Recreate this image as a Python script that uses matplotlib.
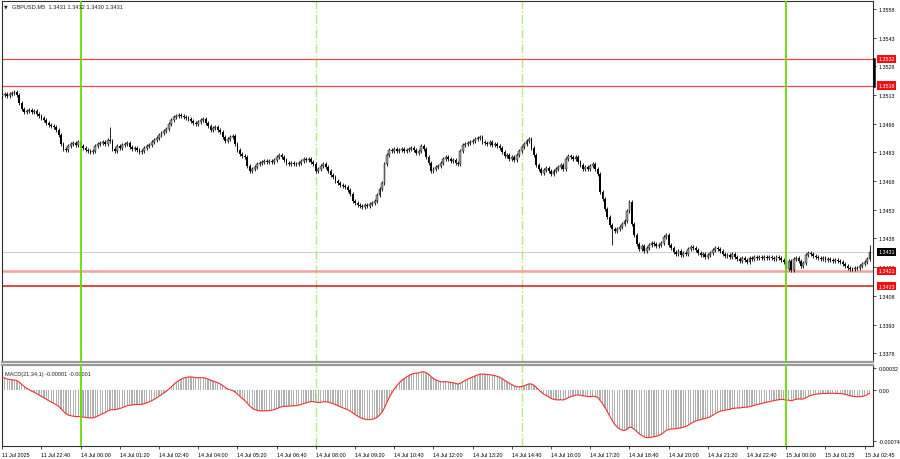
import numpy as np
import matplotlib.pyplot as plt
from matplotlib.transforms import blended_transform_factory

plt.rcParams['font.family'] = ['Liberation Sans', 'DejaVu Sans']

# M5 closes, GBPUSD, 11 Jul 21:20 -> 15 Jul 02:50
closes = [
    1.35130, 1.35135, 1.35125, 1.35135, 1.35141, 1.35146, 1.35130, 1.35088, 1.35057, 1.35041,
    1.35047, 1.35052, 1.35041, 1.35047, 1.35031, 1.35020, 1.35010, 1.35000, 1.34984, 1.34973,
    1.34968, 1.34963, 1.34947, 1.34921, 1.34874, 1.34848, 1.34842, 1.34863, 1.34874, 1.34879,
    1.34869, 1.34884, 1.34863, 1.34853, 1.34842, 1.34837, 1.34832, 1.34837, 1.34863, 1.34874,
    1.34879, 1.34884, 1.34874, 1.34895, 1.34890, 1.34848, 1.34837, 1.34863, 1.34853, 1.34869,
    1.34874, 1.34879, 1.34858, 1.34848, 1.34853, 1.34842, 1.34832, 1.34837, 1.34853, 1.34863,
    1.34869, 1.34884, 1.34895, 1.34905, 1.34921, 1.34931, 1.34942, 1.34952, 1.34979, 1.35000,
    1.35015, 1.35020, 1.35026, 1.35020, 1.35015, 1.35010, 1.35005, 1.34994, 1.34984, 1.34979,
    1.34989, 1.35000, 1.35005, 1.34984, 1.34968, 1.34947, 1.34958, 1.34963, 1.34947, 1.34937,
    1.34910, 1.34890, 1.34900, 1.34910, 1.34916, 1.34874, 1.34842, 1.34822, 1.34811, 1.34806,
    1.34759, 1.34733, 1.34743, 1.34754, 1.34769, 1.34775, 1.34780, 1.34785, 1.34780, 1.34785,
    1.34780, 1.34790, 1.34806, 1.34816, 1.34806, 1.34790, 1.34775, 1.34769, 1.34775, 1.34769,
    1.34769, 1.34775, 1.34785, 1.34795, 1.34790, 1.34795, 1.34780, 1.34769, 1.34733, 1.34743,
    1.34759, 1.34769, 1.34754, 1.34733, 1.34712, 1.34701, 1.34680, 1.34670, 1.34659, 1.34654,
    1.34649, 1.34633, 1.34612, 1.34576, 1.34565, 1.34555, 1.34549, 1.34544, 1.34555, 1.34549,
    1.34560, 1.34565, 1.34576, 1.34607, 1.34639, 1.34670, 1.34769, 1.34816, 1.34842, 1.34837,
    1.34848, 1.34837, 1.34842, 1.34848, 1.34837, 1.34842, 1.34848, 1.34853, 1.34842, 1.34827,
    1.34837, 1.34863, 1.34848, 1.34806, 1.34775, 1.34733, 1.34743, 1.34754, 1.34759, 1.34775,
    1.34795, 1.34806, 1.34795, 1.34785, 1.34790, 1.34775, 1.34769, 1.34837, 1.34869, 1.34874,
    1.34879, 1.34884, 1.34890, 1.34900, 1.34905, 1.34910, 1.34884, 1.34879, 1.34874, 1.34884,
    1.34869, 1.34874, 1.34863, 1.34853, 1.34832, 1.34811, 1.34816, 1.34795, 1.34806, 1.34790,
    1.34816, 1.34837, 1.34858, 1.34874, 1.34890, 1.34900, 1.34853, 1.34816, 1.34764, 1.34743,
    1.34722, 1.34738, 1.34748, 1.34733, 1.34717, 1.34733, 1.34743, 1.34754, 1.34764, 1.34743,
    1.34795, 1.34811, 1.34806, 1.34795, 1.34806, 1.34780, 1.34764, 1.34743, 1.34754, 1.34743,
    1.34759, 1.34769, 1.34743, 1.34717, 1.34623, 1.34586, 1.34534, 1.34492, 1.34450, 1.34429,
    1.34419, 1.34429, 1.34440, 1.34456, 1.34471, 1.34523, 1.34570, 1.34456, 1.34398, 1.34351,
    1.34325, 1.34341, 1.34314, 1.34330, 1.34346, 1.34356, 1.34351, 1.34341, 1.34346, 1.34356,
    1.34388, 1.34398, 1.34346, 1.34330, 1.34309, 1.34299, 1.34314, 1.34293, 1.34304, 1.34299,
    1.34325, 1.34335, 1.34330, 1.34320, 1.34304, 1.34293, 1.34299, 1.34283, 1.34293, 1.34304,
    1.34320, 1.34330, 1.34325, 1.34314, 1.34299, 1.34288, 1.34293, 1.34283, 1.34299, 1.34283,
    1.34273, 1.34262, 1.34278, 1.34267, 1.34257, 1.34278, 1.34273, 1.34283, 1.34278, 1.34283,
    1.34278, 1.34283, 1.34278, 1.34283, 1.34278, 1.34273, 1.34283, 1.34278, 1.34267, 1.34257,
    1.34220, 1.34262, 1.34215, 1.34273, 1.34278, 1.34262, 1.34236, 1.34252, 1.34293, 1.34304,
    1.34299, 1.34288, 1.34283, 1.34278, 1.34273, 1.34278, 1.34267, 1.34273, 1.34267, 1.34262,
    1.34267, 1.34262, 1.34257, 1.34246, 1.34236, 1.34225, 1.34220, 1.34220, 1.34225, 1.34225,
    1.34236, 1.34246, 1.34257, 1.34273, 1.34309,
]
first_open = 1.35125
wick = 0.0001
extra_highs = {44: 1.34963, 354: 1.34345}
extra_lows = {249: 1.34346, 322: 1.34205}

# MACD(21,34,1)
fast_period = 21
slow_period = 34
macd_start = 0.00019  # value of the first bar in the MACD window

price_ticks = [1.3558, 1.3543, 1.3528, 1.3513, 1.3498, 1.3483, 1.3468, 1.3453,
               1.3438, 1.3423, 1.3408, 1.3393, 1.3378]
levels = [1.3532, 1.3518, 1.3421, 1.3413]
last_price = 1.3431
macd_ticks = [0.00032, 0.0, -0.00074]
macd_tick_labels = ['0.00032', '0.00', '-0.00074']

time_idx = [0, 16, 32, 48, 64, 80, 96, 112, 128, 144, 160, 176, 192, 208,
            224, 240, 256, 272, 288, 304, 320, 336, 352]
time_labels = ['11 Jul 2025', '11 Jul 22:40', '14 Jul 00:00', '14 Jul 01:20',
               '14 Jul 02:40', '14 Jul 04:00', '14 Jul 05:20', '14 Jul 06:40',
               '14 Jul 08:00', '14 Jul 09:20', '14 Jul 10:40', '14 Jul 12:00',
               '14 Jul 13:20', '14 Jul 14:40', '14 Jul 16:00', '14 Jul 17:20',
               '14 Jul 18:40', '14 Jul 20:00', '14 Jul 21:20', '14 Jul 22:40',
               '15 Jul 00:00', '15 Jul 01:25', '15 Jul 02:45']
day_lines = [32, 320]      # 00:00 session separators
open_lines = [128, 212]    # 08:00 and 15:00

# --- derived series ---
c = np.array(closes)
o = np.concatenate([[first_open], c[:-1]])
hi = np.maximum(o, c) + wick
lo = np.minimum(o, c) - wick
for k, v in extra_highs.items():
    hi[k] = max(hi[k], v)
for k, v in extra_lows.items():
    lo[k] = min(lo[k], v)
x = np.arange(len(c))


def ema(vals, period, start):
    a = 2.0 / (period + 1)
    out, e = [], start
    for v in vals:
        e = e + a * (v - e)
        out.append(e)
    return np.array(out)


macd = ema(c, fast_period, c[0]) - ema(c, slow_period, c[0] - macd_start)

# --- figure ---
fig = plt.figure(figsize=(9, 4.6), dpi=100)
ax = fig.add_axes([2 / 900, 1 - 363 / 460, 871 / 900, 361 / 460])
ax2 = fig.add_axes([2 / 900, 1 - 447 / 460, 871 / 900, 81 / 460])
xlim = (-0.1, 355.4)

# candles
up = c >= o
ax.vlines(x, lo, hi, color='black', lw=0.6, zorder=3)
body_h = np.maximum(np.abs(c - o), 0.00002)
ax.bar(x[up], body_h[up], bottom=np.minimum(o, c)[up], width=0.75,
       color='#a0a0a0', edgecolor='black', linewidth=0.3, zorder=4)
ax.bar(x[~up], body_h[~up], bottom=np.minimum(o, c)[~up], width=0.75,
       color='black', linewidth=0, zorder=4)

# horizontal levels
ax.axhline(levels[0], color='#f04848', lw=0.9, zorder=2)
ax.axhline(levels[1], color='#f04848', lw=0.9, zorder=2)
ax.axhline(levels[2], color='#f5a0a0', lw=1.8, zorder=2)
ax.axhline(levels[3], color='#e41010', lw=1.1, zorder=2)
ax.axhline(last_price, color='#d0d0d0', lw=0.8, zorder=1)

for a in (ax, ax2):
    for d in day_lines:
        a.axvline(d, color='#66dd00', lw=1.3, zorder=5)
    for d in open_lines:
        a.axvline(d, color='#b4ee78', lw=1.0, ls='-.', zorder=1)
    a.set_xlim(*xlim)
    for s in a.spines.values():
        s.set_color('#303030')
        s.set_linewidth(0.8)

ax.set_ylim(1.33734, 1.35622)
ax.spines['bottom'].set_color('#9a9a9a')
ax.spines['bottom'].set_linewidth(1.6)
ax2.spines['top'].set_color('#9a9a9a')
ax2.spines['top'].set_linewidth(1.6)

ax.set_xticks([])
ax.yaxis.tick_right()
ax.set_yticks(price_ticks)
ax.set_yticklabels([f'{p:.4f}' for p in price_ticks])
ax.tick_params(axis='y', length=2.5, width=0.6, pad=1.5, labelsize=3.9,
               color='#303030')

# price axis boxes
tr = blended_transform_factory(ax.transAxes, ax.transData)
for p in levels:
    ax.text(1.006, p, f'{p:.4f}', transform=tr, fontsize=3.9, color='white',
            va='center', ha='left', zorder=10, clip_on=False,
            bbox=dict(boxstyle='square,pad=0.3', fc='#f01010', ec='none'))
ax.text(1.006, last_price, f'{last_price:.4f}', transform=tr, fontsize=3.9,
        color='white', va='center', ha='left', zorder=10, clip_on=False,
        bbox=dict(boxstyle='square,pad=0.3', fc='black', ec='none'))
ax.plot([1.0015, 1.0015], [levels[0], levels[1]], transform=tr, color='black',
        lw=1.8, clip_on=False, zorder=10)

# MACD
ax2.bar(x, macd, width=0.5, color='#b0b0b0', linewidth=0, zorder=2)
ax2.plot(x, macd, color='#f03030', lw=0.8, zorder=3)
ax2.set_ylim(-0.00081, 0.00036)
ax2.yaxis.tick_right()
ax2.set_yticks(macd_ticks)
ax2.set_yticklabels(macd_tick_labels)
ax2.tick_params(axis='y', length=2.5, width=0.6, pad=1.5, labelsize=3.9,
                color='#303030')
ax2.set_xticks(time_idx)
ax2.set_xticklabels(time_labels, ha='left')
ax2.tick_params(axis='x', length=2.5, width=0.6, pad=1.5, labelsize=3.9,
                color='#303030')

ax2.text(0.004, 0.93, f'MACD({fast_period},{slow_period},1) -0.00001 -0.00001',
         transform=ax2.transAxes, fontsize=4.0, va='top', ha='left',
         color='#202020')
fig.text(4 / 900, 1 - 7 / 460, '\u25bc', fontsize=3.5, va='center', ha='left',
         family=['DejaVu Sans'], color='#202020')
fig.text(12 / 900, 1 - 7 / 460, 'GBPUSD,M5  1.3431 1.3432 1.3430 1.3431',
         fontsize=4.1, va='center', ha='left', color='#202020')

fig.savefig('out.png', dpi=100, facecolor='white')
